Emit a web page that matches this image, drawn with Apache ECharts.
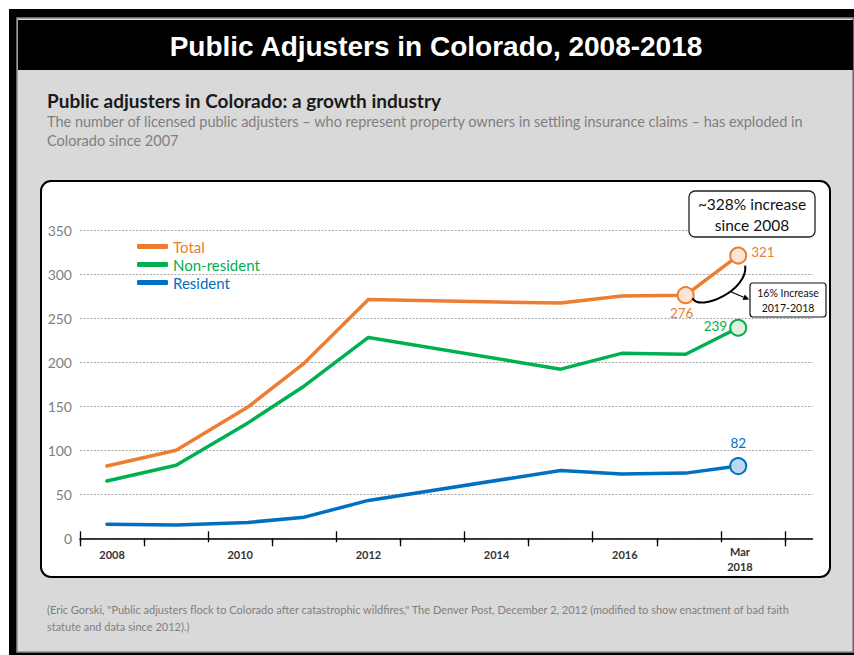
<!DOCTYPE html>
<html><head><meta charset="utf-8">
<script src="https://cdn.jsdelivr.net/npm/echarts@6/dist/echarts.min.js"></script>
<style>html,body{margin:0;padding:0;background:#fff}#chart{width:854px;height:655px}</style>
</head><body><div id="chart"></div>
<script>
// ---- data ----
const categories = ['2008','2009','2010','2011','2012','2013','2014','2015','2016','2017','Mar\n2018'];
const pointYears = [2007.92, 2009, 2010.12, 2011, 2012, 2015, 2015.95, 2016.95, 2017.77];
const totalValues = [82, 100, 149, 199, 271, 267, 275, 276, 321];
const nonResidentValues = [65, 83, 131, 173, 228, 192, 210, 209, 239];
const residentValues = [16, 15, 18, 24, 43, 77, 73, 74, 82];
const seriesNames = ['Total', 'Non-resident', 'Resident'];
const yMin = 0, yMax = 350, yStep = 50;

const ORANGE = '#ED7D31', GREEN = '#00B050', BLUE = '#0070C0';
const FONT = 'Lato, "Open Sans", sans-serif';

function pts(values, markIdx, color, fill, labels) {
  return values.map((v, i) => {
    const item = { value: [pointYears[i], v] };
    if (markIdx.indexOf(i) >= 0) {
      item.symbol = 'circle';
      item.symbolSize = 16;
      item.itemStyle = { color: fill, borderColor: color, borderWidth: 2 };
      item.label = Object.assign({ show: true, color: color, fontSize: 13.5, fontFamily: FONT,
        formatter: p => String(p.value[1]) }, labels[i]);
    }
    return item;
  });
}

const chart = echarts.init(document.getElementById('chart'), null, { renderer: 'svg' });

const staticGraphics = [
  { id: 'outer', type: 'rect', z: -100, shape: { x: 9, y: 9, width: 845, height: 646 }, style: { fill: '#000' } },
  { id: 'panel', type: 'rect', z: -99, shape: { x: 17, y: 18, width: 836, height: 634 }, style: { fill: '#d9d9d9', stroke: '#8c8c8c', lineWidth: 1.5 } },
  { id: 'bar', type: 'rect', z: -98, shape: { x: 18, y: 20, width: 835, height: 50 }, style: { fill: '#000' } },
  { id: 'box', type: 'rect', z: -97, shape: { x: 41, y: 181, width: 789, height: 396, r: 10 }, style: { fill: '#fff', stroke: '#000', lineWidth: 2 } },
  { id: 'title', type: 'text', z: 10, style: { text: 'Public Adjusters in Colorado, 2008-2018', x: 436, y: 46, align: 'center', verticalAlign: 'middle', fill: '#fff', font: 'bold 28px "Liberation Sans", Arial, sans-serif' } },
  { id: 'sub', type: 'text', z: 10, style: { text: 'Public adjusters in Colorado: a growth industry', x: 47, y: 100, align: 'left', verticalAlign: 'middle', fill: '#1a1a1a', font: 'bold 19px ' + FONT } },
  { id: 'desc', type: 'text', z: 10, style: { text: 'The number of licensed public adjusters \u2013 who represent property owners in settling insurance claims \u2013 has exploded in\nColorado since 2007', x: 47, y: 112, lineHeight: 19, align: 'left', verticalAlign: 'top', fill: '#7f7f7f', font: '14.5px ' + FONT } },
  { id: 'foot', type: 'text', z: 10, style: { text: '(Eric Gorski, "Public adjusters flock to Colorado after catastrophic wildfires," The Denver Post, December 2, 2012 (modified to show enactment of bad faith\nstatute and data since 2012).)', x: 47, y: 601, lineHeight: 17, align: 'left', verticalAlign: 'top', fill: '#7f7f7f', font: '11px ' + FONT } },
  { id: 'box1', type: 'rect', z: 10, shape: { x: 689, y: 191, width: 126, height: 46, r: 6 }, style: { fill: '#fff', stroke: '#222', lineWidth: 1.3 } },
  { id: 'box1t', type: 'text', z: 11, style: { text: '~328% increase\nsince 2008', x: 752, y: 214, lineHeight: 21, align: 'center', verticalAlign: 'middle', fill: '#111', font: '15.5px ' + FONT } },
  { id: 'box2', type: 'rect', z: 10, shape: { x: 750, y: 283, width: 76, height: 34, r: 3 }, style: { fill: '#fff', stroke: '#111', lineWidth: 1.2 } },
  { id: 'box2t', type: 'text', z: 11, style: { text: '16% Increase\n2017-2018', x: 788, y: 300, lineHeight: 15, align: 'center', verticalAlign: 'middle', fill: '#111', font: '10.5px ' + FONT } }
];

const option = {
  animation: false,
  textStyle: { fontFamily: FONT },
  graphic: staticGraphics,
  grid: [
    { left: 80, right: 41.5, top: 230, bottom: 116.7 },
    { left: 80, right: 69, top: 230, bottom: 116.7 }
  ],
  legend: {
    orient: 'vertical', left: 132, top: 234, itemWidth: 31, itemHeight: 5, itemGap: 3, itemTextGap: 5,
    icon: 'roundRect',
    textStyle: { fontSize: 15, fontFamily: FONT },
    data: [
      { name: seriesNames[0], textStyle: { color: ORANGE } },
      { name: seriesNames[1], textStyle: { color: GREEN } },
      { name: seriesNames[2], textStyle: { color: BLUE } }
    ]
  },
  xAxis: [
    { gridIndex: 0, type: 'value', position: 'bottom', min: 0, max: 1, axisLine: { show: true, lineStyle: { color: '#000', width: 1.5 } }, axisTick: { show: false }, axisLabel: { show: false }, splitLine: { show: false } },
    { gridIndex: 1, type: 'category', position: 'bottom', data: categories, boundaryGap: true,
      axisLine: { show: false },
      axisTick: { show: true, inside: true, length: 7, lineStyle: { color: '#000', width: 1.3 } },
      axisLabel: { interval: 1, margin: 6, color: '#333', fontSize: 11, fontWeight: 'bold', fontFamily: FONT,
        formatter: v => v.indexOf('Mar') === 0 ? '{m|Mar}\n{m|2018}' : '{y|' + v + '}',
        rich: { y: { lineHeight: 15, padding: [6, 0, 0, 0], fontSize: 11, fontWeight: 'bold', color: '#333' },
                m: { lineHeight: 15, padding: [0, 26, 0, 0], fontSize: 11, fontWeight: 'bold', color: '#333' } } },
      splitLine: { show: false } },
    { gridIndex: 1, type: 'category', position: 'bottom', data: categories, boundaryGap: true,
      axisLine: { show: false }, axisLabel: { show: false }, splitLine: { show: false },
      axisTick: { show: true, inside: false, length: 4, lineStyle: { color: '#000', width: 1.3 } } },
    { gridIndex: 1, type: 'category', position: 'bottom', data: categories, boundaryGap: true,
      axisLine: { show: false }, axisLabel: { show: false }, splitLine: { show: false },
      axisTick: { show: true, inside: false, length: 8, interval: (i) => i === 0 || i % 2 === 1, lineStyle: { color: '#000', width: 1.3 } } },
    { gridIndex: 1, type: 'value', position: 'bottom', min: 2007.5, max: 2018.5, show: false }
  ],
  yAxis: [
    { gridIndex: 0, type: 'value', min: yMin, max: yMax, interval: yStep,
      axisLine: { show: false }, axisTick: { show: false },
      axisLabel: { margin: 8, color: '#808080', fontSize: 14, fontFamily: FONT },
      splitLine: { show: true, lineStyle: { color: '#a8a8a8', type: [2, 1.5], width: 1 } } },
    { gridIndex: 1, type: 'value', min: yMin, max: yMax, show: false }
  ],
  series: [
    { name: seriesNames[2], type: 'line', xAxisIndex: 4, yAxisIndex: 1, symbol: 'none', color: BLUE,
      lineStyle: { width: 3.5, color: BLUE, cap: 'round', join: 'round' },
      data: pts(residentValues, [8], BLUE, '#BDD7EE', { 8: { position: 'top', distance: 7 } }) },
    { name: seriesNames[1], type: 'line', xAxisIndex: 4, yAxisIndex: 1, symbol: 'none', color: GREEN,
      lineStyle: { width: 3.5, color: GREEN, cap: 'round', join: 'round' },
      data: pts(nonResidentValues, [8], GREEN, '#E2EFDA', { 8: { position: 'left', distance: 2, offset: [0, -2] } }) },
    { name: seriesNames[0], type: 'line', xAxisIndex: 4, yAxisIndex: 1, symbol: 'none', color: ORANGE,
      lineStyle: { width: 3.5, color: ORANGE, cap: 'round', join: 'round' },
      data: pts(totalValues, [7, 8], ORANGE, '#FBE5D6', { 7: { position: 'bottom', distance: 2, offset: [-4, 0] }, 8: { position: 'right', distance: 4, offset: [0, -4] } }) }
  ]
};
chart.setOption(option);

// curved bracket + arrow anchored at the two highlighted Total points
const p1 = chart.convertToPixel({ xAxisIndex: 4, yAxisIndex: 1 }, [pointYears[7], totalValues[7]]);
const p2 = chart.convertToPixel({ xAxisIndex: 4, yAxisIndex: 1 }, [pointYears[8], totalValues[8]]);
const a0 = [p2[0] - 8, p2[1] + 36];
const a1 = [p2[0] + 11, p2[1] + 44];
const dx = a1[0] - a0[0], dy = a1[1] - a0[1], L = Math.hypot(dx, dy);
const ux = dx / L, uy = dy / L, nx = -uy, ny = ux;
const bx = a1[0] - 6 * ux, by = a1[1] - 6 * uy;
chart.setOption({ graphic: staticGraphics.concat([
  { id: 'curve', type: 'bezierCurve', z: 5, shape: { x1: p2[0] + 7, y1: p2[1] + 10, cpx1: p2[0] + 10, cpy1: p2[1] + 35, cpx2: p1[0] + 14, cpy2: p1[1] + 17, x2: p1[0] + 7, y2: p1[1] + 3 }, style: { stroke: '#000', lineWidth: 2, fill: null } },
  { id: 'arrowLine', type: 'line', z: 5, shape: { x1: a0[0], y1: a0[1], x2: bx, y2: by }, style: { stroke: '#000', lineWidth: 1.2 } },
  { id: 'arrowHead', type: 'polygon', z: 5, shape: { points: [[a1[0], a1[1]], [bx + 3 * nx, by + 3 * ny], [bx - 3 * nx, by - 3 * ny]] }, style: { fill: '#000' } }
]) });
</script>
</body></html>
